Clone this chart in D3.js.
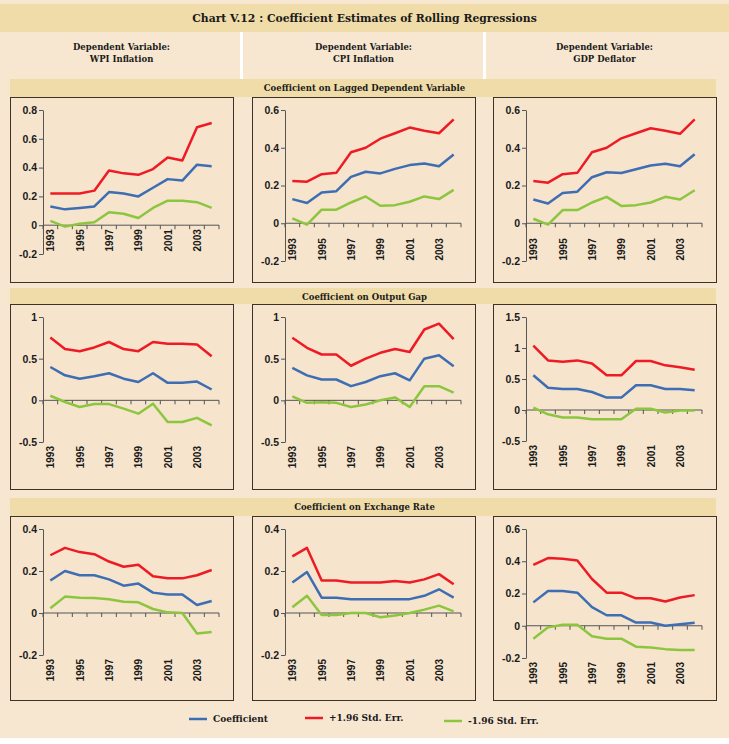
<!DOCTYPE html>
<html>
<head>
<meta charset="utf-8">
<script src="https://cdn.jsdelivr.net/npm/d3@7"></script>
<style>
  body { margin: 0; background: #ffffff; }
  svg text { fill: #1a1a1a; }
  .serif { font-family: "DejaVu Serif", serif; font-weight: bold; }
  .tick text { font-family: "Liberation Sans", Arial, sans-serif; font-weight: bold; font-size: 10.5px; }
</style>
</head>
<body>
<div id="chart"></div>
<script>
// years on the category axis, every other one is labelled
var years = [1993, 1994, 1995, 1996, 1997, 1998, 1999, 2000, 2001, 2002, 2003, 2004];
var labelYears = [1993, 1995, 1997, 1999, 2001, 2003];

// texts
var chartTitle = "Chart V.12 : Coefficient Estimates of Rolling Regressions";
var columnTitles = [["Dependent Variable:", "WPI Inflation"], ["Dependent Variable:", "CPI Inflation"], ["Dependent Variable:", "GDP Deflator"]];
var rowTitles = ["Coefficient on Lagged Dependent Variable", "Coefficient on Output Gap", "Coefficient on Exchange Rate"];
var seriesNames = ["Coefficient", "+1.96 Std. Err.", "-1.96 Std. Err."];

// Coefficient on lagged dependent variable
var wpiLagCoef  = [0.13, 0.11, 0.12, 0.13, 0.23, 0.22, 0.20, 0.26, 0.32, 0.31, 0.42, 0.41];
var wpiLagUpper = [0.22, 0.22, 0.22, 0.24, 0.38, 0.36, 0.35, 0.39, 0.47, 0.45, 0.68, 0.71];
var wpiLagLower = [0.03, -0.01, 0.01, 0.02, 0.09, 0.08, 0.05, 0.12, 0.17, 0.17, 0.16, 0.12];
var cpiLagCoef  = [0.128, 0.107, 0.163, 0.17, 0.246, 0.273, 0.264, 0.288, 0.308, 0.316, 0.302, 0.364];
var cpiLagUpper = [0.224, 0.22, 0.26, 0.267, 0.376, 0.40, 0.448, 0.477, 0.507, 0.49, 0.477, 0.55];
var cpiLagLower = [0.026, -0.007, 0.072, 0.072, 0.11, 0.142, 0.093, 0.096, 0.114, 0.142, 0.128, 0.177];
var gdpLagCoef  = [0.126, 0.105, 0.16, 0.167, 0.244, 0.27, 0.266, 0.286, 0.306, 0.315, 0.302, 0.366];
var gdpLagUpper = [0.224, 0.215, 0.26, 0.267, 0.376, 0.40, 0.45, 0.477, 0.503, 0.49, 0.474, 0.55];
var gdpLagLower = [0.024, -0.007, 0.07, 0.07, 0.11, 0.14, 0.092, 0.096, 0.11, 0.14, 0.126, 0.175];

// Coefficient on output gap
var wpiGapCoef  = [0.40, 0.30, 0.26, 0.29, 0.325, 0.26, 0.22, 0.325, 0.21, 0.21, 0.225, 0.13];
var wpiGapUpper = [0.754, 0.615, 0.59, 0.635, 0.70, 0.615, 0.59, 0.70, 0.68, 0.68, 0.67, 0.53];
var wpiGapLower = [0.055, -0.02, -0.08, -0.045, -0.045, -0.10, -0.16, -0.04, -0.26, -0.26, -0.21, -0.30];
var cpiGapCoef  = [0.39, 0.30, 0.25, 0.25, 0.17, 0.22, 0.29, 0.325, 0.24, 0.50, 0.54, 0.41];
var cpiGapUpper = [0.75, 0.63, 0.55, 0.55, 0.415, 0.50, 0.57, 0.615, 0.58, 0.85, 0.92, 0.735];
var cpiGapLower = [0.047, -0.03, -0.023, -0.03, -0.08, -0.05, 0, 0.035, -0.08, 0.17, 0.17, 0.093];
var gdpGapCoef  = [0.56, 0.36, 0.34, 0.34, 0.29, 0.20, 0.20, 0.40, 0.40, 0.34, 0.34, 0.32];
var gdpGapUpper = [1.04, 0.80, 0.78, 0.80, 0.75, 0.56, 0.56, 0.79, 0.79, 0.72, 0.69, 0.65];
var gdpGapLower = [0.04, -0.07, -0.12, -0.12, -0.15, -0.15, -0.15, 0.02, 0.02, -0.04, -0.01, -0.01];

// Coefficient on exchange rate
var wpiFxCoef  = [0.155, 0.20, 0.18, 0.18, 0.16, 0.13, 0.14, 0.097, 0.088, 0.088, 0.038, 0.057];
var wpiFxUpper = [0.275, 0.31, 0.29, 0.28, 0.245, 0.22, 0.23, 0.175, 0.165, 0.165, 0.18, 0.205];
var wpiFxLower = [0.023, 0.078, 0.073, 0.071, 0.065, 0.054, 0.051, 0.019, 0.003, 0, -0.098, -0.09];
var cpiFxCoef  = [0.145, 0.195, 0.073, 0.073, 0.066, 0.066, 0.066, 0.066, 0.066, 0.082, 0.113, 0.073];
var cpiFxUpper = [0.27, 0.31, 0.155, 0.155, 0.145, 0.145, 0.145, 0.152, 0.145, 0.16, 0.185, 0.137];
var cpiFxLower = [0.027, 0.082, -0.01, -0.01, 0, 0, -0.02, -0.012, 0, 0.016, 0.035, 0.008];
var gdpFxCoef  = [0.145, 0.215, 0.215, 0.205, 0.115, 0.065, 0.065, 0.02, 0.02, 0, 0.01, 0.018];
var gdpFxUpper = [0.377, 0.42, 0.415, 0.405, 0.29, 0.205, 0.205, 0.17, 0.17, 0.15, 0.175, 0.19];
var gdpFxLower = [-0.08, -0.01, 0.006, 0.006, -0.065, -0.08, -0.08, -0.13, -0.135, -0.145, -0.15, -0.15];

// y-axis ticks
var ticksLagWpi = [-0.2, 0, 0.2, 0.4, 0.6, 0.8];
var ticksLag = [-0.2, 0, 0.2, 0.4, 0.6];
var ticksGap = [-0.5, 0, 0.5, 1];
var ticksGapGdp = [-0.5, 0, 0.5, 1, 1.5];
var ticksFx = [-0.2, 0, 0.2, 0.4];
var ticksFxGdp = [-0.2, 0, 0.2, 0.4, 0.6];

var colors = ["#3d6db3", "#ee1b24", "#8cc63f"];

// panels, row by row
var panels = [
    { row: 0, col: 0, series: [wpiLagCoef, wpiLagUpper, wpiLagLower], ticks: ticksLagWpi },
    { row: 0, col: 1, series: [cpiLagCoef, cpiLagUpper, cpiLagLower], ticks: ticksLag },
    { row: 0, col: 2, series: [gdpLagCoef, gdpLagUpper, gdpLagLower], ticks: ticksLag },
    { row: 1, col: 0, series: [wpiGapCoef, wpiGapUpper, wpiGapLower], ticks: ticksGap },
    { row: 1, col: 1, series: [cpiGapCoef, cpiGapUpper, cpiGapLower], ticks: ticksGap },
    { row: 1, col: 2, series: [gdpGapCoef, gdpGapUpper, gdpGapLower], ticks: ticksGapGdp },
    { row: 2, col: 0, series: [wpiFxCoef, wpiFxUpper, wpiFxLower], ticks: ticksFx },
    { row: 2, col: 1, series: [cpiFxCoef, cpiFxUpper, cpiFxLower], ticks: ticksFx },
    { row: 2, col: 2, series: [gdpFxCoef, gdpFxUpper, gdpFxLower], ticks: ticksFxGdp }
];

// layout
var W = 729, H = 744;
var colLeft = [10, 252, 493];
var panelW = 223;
var rowBandTop = [79, 288, 498];
var rowPanelTop = [97, 304, 516];
var rowPanelH = [185, 185, 184];
// plot bottom offset inside each panel (row 1 differs by column)
var plotBottom = [[157, 164, 164], [138, 138, 137], [139, 139, 142]];

var svg = d3.select("#chart").append("svg")
    .attr("width", W)
    .attr("height", H);

svg.append("rect").attr("x", 0).attr("y", 0).attr("width", W).attr("height", 738).attr("fill", "#f7e7d1");

// title band
svg.append("rect").attr("x", 0).attr("y", 4).attr("width", W).attr("height", 28).attr("fill", "#f0dca8");
svg.append("text").attr("class", "serif")
    .attr("x", W / 2).attr("y", 22)
    .attr("text-anchor", "middle")
    .style("font-size", "10.8px")
    .text(chartTitle);

// white separators between the column headers
[240, 483].forEach(function (x) {
    svg.append("rect").attr("x", x).attr("y", 32).attr("width", 3).attr("height", 47).attr("fill", "#ffffff");
});

// column headers
columnTitles.forEach(function (lines, i) {
    var t = svg.append("text").attr("class", "serif")
        .attr("text-anchor", "middle")
        .style("font-size", "8.5px");
    lines.forEach(function (s, j) {
        t.append("tspan").attr("x", colLeft[i] + panelW / 2).attr("y", 50 + j * 12).text(s);
    });
});

// row bands
rowTitles.forEach(function (s, r) {
    svg.append("rect").attr("x", 10).attr("y", rowBandTop[r]).attr("width", 706)
        .attr("height", rowPanelTop[r] - rowBandTop[r]).attr("fill", "#f0dca8");
    svg.append("text").attr("class", "serif")
        .attr("x", W / 2).attr("y", rowBandTop[r] + 12)
        .attr("text-anchor", "middle")
        .style("font-size", "8.5px")
        .text(s);
});

var fmt = function (d) { return String(+d.toFixed(1)); };

panels.forEach(function (p) {
    var x0 = colLeft[p.col], y0 = rowPanelTop[p.row];
    var g = svg.append("g").attr("transform", `translate(${x0}, ${y0})`);

    g.append("rect")
        .attr("x", 0.5).attr("y", 0.5)
        .attr("width", panelW).attr("height", rowPanelH[p.row])
        .attr("fill", "#f6e4cd")
        .attr("stroke", "#3d3328")
        .attr("stroke-width", 1);

    var left = 33, right = 209, top = 13, bottom = plotBottom[p.row][p.col];

    var x = d3.scaleBand().domain(years).range([left, right]);
    var y = d3.scaleLinear().domain(d3.extent(p.ticks)).range([bottom, top]);

    // y axis
    g.append("g")
        .attr("transform", `translate(${left}, 0)`)
        .call(d3.axisLeft(y).tickValues(p.ticks).tickFormat(fmt).tickSize(4).tickSizeOuter(0))
        .call(function (a) {
            a.selectAll("path, line").attr("stroke", "#555");
            a.selectAll("text").attr("x", -6);
        });

    // x axis line at zero with ticks between categories
    var y0v = y(0);
    g.append("line")
        .attr("x1", left).attr("x2", right)
        .attr("y1", y0v).attr("y2", y0v)
        .attr("stroke", "#555");
    g.append("g").selectAll("line")
        .data(years.concat([null]))
        .enter()
        .append("line")
        .attr("x1", (d, i) => left + i * x.step())
        .attr("x2", (d, i) => left + i * x.step())
        .attr("y1", y0v).attr("y2", y0v + 4)
        .attr("stroke", "#555");

    // year labels
    var labelTop;
    if (p.row === 0) {
        labelTop = p.col === 0 ? y0v + 4 : y0v + 15;
    } else {
        labelTop = bottom + 4;
    }
    g.append("g")
        .selectAll("text")
        .data(labelYears)
        .enter()
        .append("text")
        .attr("transform", d => `translate(${x(d) + x.bandwidth() / 2 + 4}, ${labelTop}) rotate(-90)`)
        .attr("text-anchor", "end")
        .style("font-family", "'Liberation Sans', Arial, sans-serif")
        .style("font-weight", "bold")
        .style("font-size", "10px")
        .text(d => d);

    // series lines, lower band first so the coefficient sits on top
    var line = d3.line()
        .x((d, i) => x(years[i]) + x.bandwidth() / 2)
        .y(d => y(d));
    [2, 1, 0].forEach(function (k) {
        g.append("path")
            .datum(p.series[k])
            .attr("d", line)
            .attr("fill", "none")
            .attr("stroke", colors[k])
            .attr("stroke-width", 2.5)
            .attr("stroke-linejoin", "round");
    });
});

// legend
var legendX = [189, 305, 444];
var legendY = [719, 718, 721];
seriesNames.forEach(function (s, i) {
    svg.append("line")
        .attr("x1", legendX[i]).attr("x2", legendX[i] + 18)
        .attr("y1", legendY[i]).attr("y2", legendY[i])
        .attr("stroke", colors[i])
        .attr("stroke-width", 2.5);
    svg.append("text").attr("class", "serif")
        .attr("x", legendX[i] + 24).attr("y", legendY[i] + 3)
        .style("font-size", "9px")
        .text(s);
});
</script>
</body>
</html>
